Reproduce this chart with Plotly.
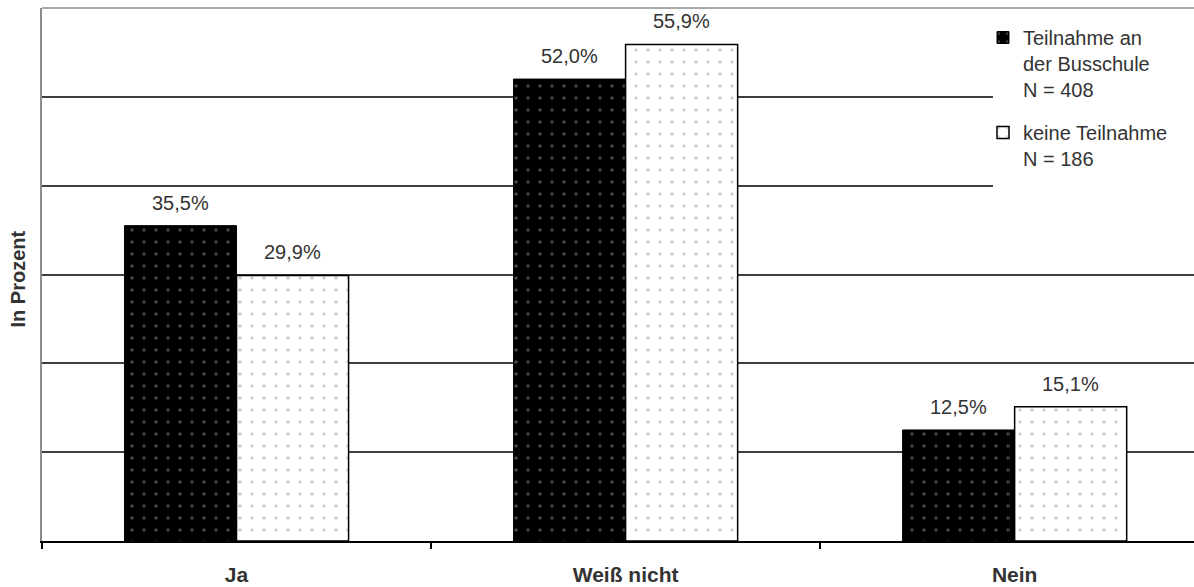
import plotly.graph_objects as go

# Survey answers (percent of respondents)
categories = ["Ja", "Weiß nicht", "Nein"]
teilnahme = [35.5, 52.0, 12.5]
keine_teilnahme = [29.9, 55.9, 15.1]
name_teilnahme = "Teilnahme an<br>der Busschule<br>N = 408"
name_keine = "keine Teilnahme<br>N = 186"
grid_values = [10, 20, 30, 40, 50]

FONT = "Liberation Sans, Arial, sans-serif"
TEXT = "#333333"
BARGAP = 0.424

fig = go.Figure()
fig.add_trace(go.Bar(
    x=categories, y=teilnahme, name=name_teilnahme,
    legendgroup="a",
    marker=dict(
        color="black",
        line=dict(color="black", width=1),
        pattern=dict(shape=".", fgcolor="#8a8a8a", bgcolor="black",
                     size=12, solidity=0.07, fillmode="overlay"),
    ),
))
fig.add_trace(go.Bar(
    x=categories, y=keine_teilnahme, name=name_keine,
    legendgroup="b",
    marker=dict(
        color="white",
        line=dict(color="black", width=1.5),
        pattern=dict(shape=".", fgcolor="#9a9a9a", bgcolor="white",
                     size=12, solidity=0.06, fillmode="overlay"),
    ),
))

# Value labels above each bar (decimal comma)
bar_w = (1 - BARGAP) / 2
for i, series in enumerate([teilnahme, keine_teilnahme]):
    for j, v in enumerate(series):
        fig.add_annotation(
            x=j + (i - 0.5) * bar_w, y=v, xref="x", yref="y",
            text=f"{v:.1f}%".replace(".", ","),
            showarrow=False, yanchor="bottom", xanchor="center", yshift=10,
            font=dict(family=FONT, size=20, color=TEXT),
        )

# Y axis title
fig.add_annotation(
    x=0, y=0.5, xref="paper", yref="paper", xshift=-25, yshift=-5,
    text="In Prozent", textangle=-90, showarrow=False,
    xanchor="center", yanchor="middle",
    font=dict(family=FONT, size=20, color=TEXT, weight=700),
)

# White panel behind the legend, hiding the grid lines there
fig.add_shape(
    type="rect", xref="paper", yref="paper",
    x0=0.8255, x1=1.0, y0=0.655, y1=0.987,
    fillcolor="white", line=dict(width=0), layer="above",
)
# Top frame line
fig.add_shape(
    type="line", xref="paper", yref="paper", x0=0, x1=1, y0=1, y1=1,
    line=dict(color="#8c8c8c", width=1.5),
)

fig.update_layout(
    width=1194, height=587,
    margin=dict(l=42, r=0, t=8, b=46),
    paper_bgcolor="white", plot_bgcolor="white",
    barmode="group", bargap=BARGAP, bargroupgap=0,
    separators=",.",
    showlegend=True,
    legend=dict(
        x=(983 - 42) / 1152, y=(541 - 18) / 533, xanchor="left", yanchor="top",
        bgcolor="rgba(255,255,255,0)", borderwidth=0,
        font=dict(family=FONT, size=20, color=TEXT),
        traceorder="grouped", tracegroupgap=14, valign="top",
        itemclick=False, itemdoubleclick=False,
    ),
    xaxis=dict(
        type="category", range=[-0.5, 2.461],
        showline=True, linecolor="black", linewidth=2,
        ticks="outside", tickson="boundaries", ticklen=6,
        tickcolor="black", tickwidth=1.5,
        showgrid=False, ticklabelstandoff=14,
        tickfont=dict(family=FONT, size=21, color=TEXT, weight=700),
    ),
    yaxis=dict(
        range=[0, 60], tickvals=grid_values, showticklabels=False,
        ticks="", showgrid=True, gridcolor="#3f3f3f", gridwidth=1.6,
        zeroline=False,
        showline=True, linecolor="#8c8c8c", linewidth=1.5,
    ),
    hovermode=False,
)

fig.write_html("out.html")
